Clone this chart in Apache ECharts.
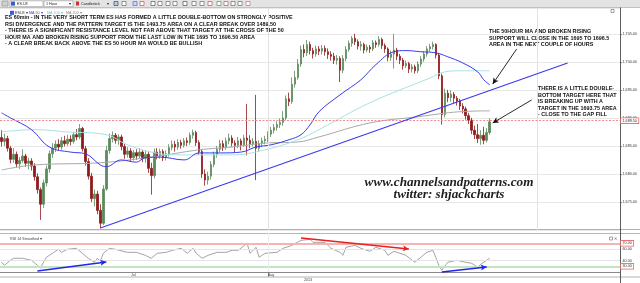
<!DOCTYPE html>
<html><head><meta charset="utf-8">
<script src="https://cdn.jsdelivr.net/npm/echarts@6/dist/echarts.min.js"></script>
<style>html,body{margin:0;padding:0;background:#fff}#c{width:640px;height:283px}</style>
</head><body><div id="c"></div>
<script>
// [open, close, low, high] for each 60-minute bar
const ohlc = [
[1686.5,1685.8,1684.9,1687.8],[1685.8,1686.3,1685.0,1687.2],[1686.3,1684.6,1684.0,1686.8],[1684.6,1682.6,1681.9,1685.0],
[1682.6,1683.5,1682.0,1684.6],[1683.5,1681.8,1681.2,1684.0],[1681.8,1682.4,1680.9,1683.0],[1682.4,1683.2,1682.0,1684.4],
[1683.2,1681.9,1681.3,1683.6],[1681.9,1682.3,1680.8,1682.9],[1682.3,1681.4,1680.6,1682.8],[1681.4,1679.5,1678.8,1681.9],
[1679.5,1677.2,1676.5,1680.1],[1677.2,1674.6,1671.8,1677.6],[1674.6,1678.4,1673.9,1679.0],[1678.4,1680.9,1677.8,1681.5],
[1680.9,1683.6,1680.2,1684.2],[1683.6,1684.6,1682.9,1685.5],[1684.6,1685.3,1683.9,1686.0],[1685.3,1684.8,1684.2,1686.2],
[1684.8,1685.9,1684.3,1686.6],[1685.9,1685.4,1684.9,1686.8],[1685.4,1686.2,1685.0,1687.0],[1686.2,1685.8,1685.1,1686.9],
[1685.8,1687.0,1685.4,1687.5],[1687.0,1686.6,1686.0,1688.0],[1686.6,1688.1,1686.2,1688.9],[1688.1,1684.5,1684.0,1688.4],
[1684.5,1682.2,1681.5,1685.0],[1682.2,1679.6,1679.0,1682.8],[1679.6,1675.6,1675.0,1680.2],[1675.6,1676.4,1674.2,1677.2],
[1676.4,1673.5,1672.8,1677.0],[1673.5,1671.2,1670.3,1674.6],[1671.2,1677.3,1670.9,1678.0],[1677.3,1684.2,1677.0,1685.0],
[1684.2,1686.3,1683.6,1687.2],[1686.3,1686.9,1685.6,1687.6],[1686.9,1686.0,1685.4,1687.3],[1686.0,1686.6,1685.2,1687.1],
[1686.6,1684.9,1684.2,1687.0],[1684.9,1683.5,1682.7,1685.4],[1683.5,1684.1,1682.9,1684.8],[1684.1,1682.9,1682.2,1684.6],
[1682.9,1683.8,1682.4,1684.3],[1683.8,1683.2,1682.5,1684.4],[1683.2,1683.9,1682.8,1684.6],[1683.9,1682.8,1682.1,1684.3],
[1682.8,1683.5,1682.0,1684.1],[1683.5,1681.0,1680.2,1683.9],[1681.0,1679.7,1676.3,1682.0],[1679.7,1683.9,1679.2,1684.5],
[1683.9,1683.2,1682.6,1684.6],[1683.2,1684.0,1682.7,1684.5],[1684.0,1682.9,1682.3,1684.4],[1682.9,1683.6,1682.4,1684.2],
[1683.6,1684.7,1683.1,1685.3],[1684.7,1685.3,1684.2,1686.0],[1685.3,1684.8,1684.0,1685.9],[1684.8,1685.6,1684.3,1686.2],
[1685.6,1685.1,1684.5,1686.1],[1685.1,1685.9,1684.7,1686.4],[1685.9,1685.6,1685.0,1686.5],[1685.6,1686.9,1685.2,1687.4],
[1686.9,1687.4,1686.3,1687.9],[1687.4,1685.6,1685.0,1687.7],[1685.6,1684.0,1683.4,1686.0],[1684.0,1680.0,1679.3,1684.3],
[1680.0,1678.9,1677.9,1680.8],[1678.9,1679.6,1678.1,1680.4],[1679.6,1681.7,1679.0,1682.3],[1681.7,1683.5,1681.2,1684.0],
[1683.5,1684.4,1682.9,1685.0],[1684.4,1685.4,1683.9,1686.1],[1685.4,1684.7,1684.1,1686.0],[1684.7,1685.9,1684.3,1686.5],
[1685.9,1686.4,1685.3,1687.2],[1686.4,1685.5,1684.9,1686.9],[1685.5,1685.1,1683.8,1686.0],[1685.1,1685.9,1684.6,1686.6],
[1685.9,1685.2,1684.2,1686.3],[1685.2,1686.4,1684.8,1687.0],[1686.4,1686.0,1683.3,1692.5],[1686.0,1685.4,1684.6,1686.9],
[1685.4,1685.8,1684.9,1686.4],[1685.8,1684.6,1678.9,1694.1],[1684.6,1685.4,1684.0,1686.0],[1685.4,1685.9,1684.8,1686.5],
[1685.9,1686.2,1685.3,1686.8],[1686.2,1687.1,1685.7,1687.6],[1687.1,1687.8,1686.6,1688.4],[1687.8,1688.3,1687.2,1688.9],
[1688.3,1688.8,1687.7,1689.4],[1688.8,1689.2,1688.2,1689.9],[1689.2,1690.0,1688.6,1691.2],[1690.0,1693.4,1689.6,1694.0],
[1693.4,1692.9,1692.1,1694.5],[1692.9,1696.0,1692.5,1697.2],[1696.0,1697.2,1695.4,1698.4],[1697.2,1699.6,1696.8,1700.5],
[1699.6,1702.2,1699.1,1702.9],[1702.2,1701.6,1700.8,1703.1],[1701.6,1703.1,1701.0,1703.9],[1703.1,1702.0,1701.3,1703.6],
[1702.0,1701.4,1700.6,1702.5],[1701.4,1702.3,1700.9,1702.9],[1702.3,1701.9,1701.2,1702.8],[1701.9,1702.4,1701.3,1703.0],
[1702.4,1701.8,1701.1,1702.9],[1701.8,1701.3,1700.5,1702.4],[1701.3,1701.0,1700.2,1701.9],[1701.0,1700.3,1699.6,1701.6],
[1700.3,1700.6,1699.5,1701.2],[1700.6,1698.5,1696.4,1701.0],[1698.5,1700.6,1698.0,1701.2],[1700.6,1702.2,1700.1,1702.8],
[1702.2,1703.3,1701.8,1703.8],[1703.3,1704.2,1702.7,1704.6],[1704.2,1703.6,1703.0,1705.0],[1703.6,1702.8,1702.2,1704.0],
[1702.8,1703.1,1702.0,1703.7],[1703.1,1702.1,1701.5,1703.4],[1702.1,1702.6,1701.7,1703.1],[1702.6,1702.3,1701.6,1703.0],
[1702.3,1703.4,1701.9,1703.9],[1703.4,1703.1,1702.5,1703.8],[1703.1,1704.0,1702.7,1704.6],[1704.0,1702.9,1702.3,1704.3],
[1702.9,1702.3,1701.6,1703.3],[1702.3,1700.8,1700.1,1702.6],[1700.8,1701.4,1700.2,1702.0],[1701.4,1702.1,1698.8,1705.0],
[1702.1,1701.0,1700.3,1702.5],[1701.0,1700.3,1699.6,1701.4],[1700.3,1699.3,1698.6,1700.7],[1699.3,1699.7,1698.9,1700.2],
[1699.7,1698.7,1698.0,1700.0],[1698.7,1699.1,1698.1,1699.6],[1699.1,1698.4,1697.9,1699.5],[1698.4,1699.6,1698.0,1700.1],
[1699.6,1700.5,1699.1,1701.0],[1700.5,1701.4,1700.0,1701.9],[1701.4,1702.3,1700.9,1702.8],[1702.3,1702.7,1701.8,1703.2],
[1702.7,1703.1,1702.2,1703.6],[1703.1,1701.2,1700.6,1703.3],[1701.2,1697.5,1696.9,1701.6],[1697.5,1690.6,1688.8,1697.9],
[1690.6,1694.4,1690.1,1695.2],[1694.4,1693.6,1692.8,1695.0],[1693.6,1694.2,1692.9,1694.9],[1694.2,1693.5,1692.6,1694.6],
[1693.5,1693.0,1692.2,1693.9],[1693.0,1692.1,1691.4,1693.4],[1692.1,1691.6,1690.8,1692.6],[1691.6,1690.4,1689.7,1692.0],
[1690.4,1689.6,1688.9,1690.9],[1689.6,1687.8,1687.1,1690.0],[1687.8,1687.0,1686.2,1688.6],[1687.0,1686.3,1685.5,1688.9],
[1686.3,1686.9,1685.2,1687.8],[1686.9,1686.0,1685.3,1688.4],[1686.0,1687.4,1685.6,1688.2],[1687.4,1689.3,1687.0,1689.9]
];
// moving averages: [bar index, value]
const ma50 = [[0,1690.9],[3,1690.0],[10,1687.9],[16,1684.8],[23,1683.9],[28,1683.6],[33,1681.6],[35,1681.3],[40,1682.5],
[45,1682.1],[48,1682.9],[53,1683.0],[61,1682.5],[66,1683.75],[73,1683.75],[80,1683.9],[85,1684.8],[90,1685.2],[96,1686.1],
[100,1687.0],[103,1688.75],[106,1691.1],[113,1694.1],[120,1696.8],[125,1699.5],[131,1701.8],[135,1702.0],[140,1701.8],
[145,1701.6],[149,1700.9],[154,1699.8],[159,1698.2],[161,1696.8],[163,1695.9]];
const ma100 = [[0,1687.5],[11,1687.9],[22,1687.5],[35,1687.0],[42,1685.2],[50,1683.9],[58,1683.4],[66,1683.4],[77,1683.4],
[88,1684.3],[99,1686.1],[106,1687.9],[123,1692.7],[143,1697.1],[148,1698.2],[153,1698.4],[163,1698.4]];
const ma200 = [[0,1680.7],[11,1681.6],[33,1682.0],[50,1683.0],[66,1684.3],[77,1684.8],[88,1685.5],[99,1685.7],[106,1686.6],
[123,1689.1],[139,1690.2],[153,1691.1],[163,1691.25]];
// RSI 14 smoothed: [bar index, value]
const rsi = [[0,37.0],[1,31.7],[3,40.4],[4,43.9],[7,43.9],[10,40.4],[12,31.7],[13,26.5],[14,37.0],[15,45.7],[17,52.6],
[19,59.6],[20,54.3],[22,59.6],[25,61.3],[27,52.6],[29,43.9],[31,37.0],[32,43.9],[33,38.7],[34,52.6],[36,61.3],[38,59.6],
[42,54.3],[45,54.3],[48,49.1],[50,43.9],[52,52.6],[55,54.3],[57,57.8],[60,61.3],[62,52.6],[64,61.3],[65,52.6],[67,43.9],
[69,49.1],[72,54.3],[75,54.3],[77,57.8],[79,57.8],[82,70.0],[83,52.6],[85,63.0],[86,45.7],[88,52.6],[92,54.3],[94,61.3],
[97,66.5],[100,75.2],[103,77.0],[104,71.7],[106,71.7],[108,71.7],[110,61.3],[113,54.3],[114,49.1],[115,63.0],[118,66.5],
[120,61.3],[123,56.1],[125,63.0],[128,57.8],[129,49.1],[131,56.1],[133,52.6],[135,49.1],[138,37.0],[140,45.7],[142,54.3],
[144,57.8],[145,45.7],[146,31.7],[147,23.0],[149,37.0],[152,40.4],[155,37.0],[157,35.2],[159,28.3],[160,33.5],[162,40.4],[163,43.9]];
const slotCount = 207;
const slots = Array.from({length: slotCount}, (_, i) => String(i));
const xTickLabels = {44: 'Jul', 90: 'Aug'};
const breakLevel = 1689.5, lowLevel = 1670.24;
const trendline = [[33,1670.36],[189,1699.79]];
const noteTop = [
 'ES 60min - IN THE VERY SHORT TERM ES HAS FORMED A LITTLE DOUBLE-BOTTOM ON STRONGLY POSITIVE',
 'RSI DIVERGENCE AND THE PATTERN TARGET IS THE 1493.75 AREA ON A CLEAR BREAK OVER 1489.50',
 '- THERE IS A SIGNIFICANT RESISTANCE LEVEL NOT FAR ABOVE THAT TARGET AT THE CROSS OF THE 50',
 'HOUR MA AND BROKEN RISING SUPPORT FROM THE LAST LOW IN THE 1695 TO 1696.50 AREA',
 '- A CLEAR BREAK BACK ABOVE THE ES 50 HOUR MA WOULD BE BULLISH'];
const noteMa = ['THE 50HOUR MA AND BROKEN RISING','SUPPORT WILL CLOSE IN THE 1695 TO 1696.5','AREA IN THE NEXT COUPLE OF HOURS'];
const noteDb = ['THERE IS A LITTLE DOUBLE-','BOTTOM TARGET HERE THAT','IS BREAKING UP WITH A','TARGET IN THE 1693.75 AREA','- CLOSE TO THE GAP FILL'];

function fmt(v){ const s=v.toFixed(2); const [a,b]=s.split('.'); return a.replace(/\B(?=(\d{3})+(?!\d))/g, ',')+'.'+b; }
const tiny = 3.7;
const boxLabel = (txt) => ({show:true, position:'end', distance:1, formatter: txt, fontSize: tiny, color:'#333',
  backgroundColor:'#fff', borderColor:'#e86a6a', borderWidth:0.8, padding:[0.5,1.5,0.3,1.5], fontFamily:'Liberation Sans'});

const g = [];
function T(x,y,text,o){ g.push(Object.assign({type:'text', silent:true, style:Object.assign({x,y,text,fill:'#222',fontSize:tiny,
  fontFamily:'Liberation Sans', verticalAlign:'middle'}, o||{})})); }
function R(x,y,w,h,fill,stroke){ g.push({type:'rect', silent:true, shape:{x,y,width:w,height:h}, style:{fill:fill||'none', stroke:stroke||null, lineWidth:0.6}}); }
function L(x1,y1,x2,y2,c,w){ g.push({type:'line', silent:true, shape:{x1,y1,x2,y2}, style:{stroke:c, lineWidth:w||1}}); }
// toolbar
R(0,0,640,7.5,'#e3e3e3'); L(0,7.5,640,7.5,'#b5b5b5',0.8);
R(2,1,6,5,'#d0d0d0','#8a8a8a');
R(10,0.8,33,5.8,'#fff','#9a9a9a'); R(11,1.6,4,4,'#3a5ccc'); T(17,3.8,'ES.U3');
R(44,0.8,29,5.8,'#fff','#9a9a9a'); T(46,3.8,'1 Hour'); T(69,3.8,'▾');
R(76,1.5,3,4,'#c33'); T(81,3.8,'Candlestick'); T(107,3.8,'▾');
const icons = [[114,'#b8c8f0','#333'],[122,'#fff','#555'],[133,'#cfd8f5','#3a5ccc'],[140,'#fff','#c33'],[151,'#fff','#444'],[158,'#fff','#555'],
 [166,'#fff','#555'],[173,'#fff','#555'],[183,'#fff','#333'],[192,'#fff','#555'],[200,'#fff','#555'],[208,'#fff','#c33'],[217,'#fff','#2a8a2a'],
 [224,'#fff','#c33'],[231,'#fff','#555'],[238,'#fff','#555'],[246,'#fff','#c55']];
icons.forEach(([x,f,s]) => R(x,1.5,4,4,f,s));
// legend row
R(10,10.8,4,4,'#3a5ccc'); T(15,13,'ESU3 ▾',{fill:'#333'});
T(29,13,'MA 50 ▾',{fill:'#3a3af0'}); T(47,13,'MA 100 ▾',{fill:'#5fc6c6'}); T(66,13,'MA 200 ▾',{fill:'#888'});
R(611,9.5,3,3,'#fff','#666');
// notes
const bold = {fontWeight:'bold', fontSize:5.4, fill:'#111'};
noteTop.forEach((t,i)=>T(5,17.6+i*6.6,t,bold));
const bold2 = {fontWeight:'bold', fontSize:5.4, fill:'#111'};
noteMa.forEach((t,i)=>T(489,31.8+i*6.6,t,bold2));
noteDb.forEach((t,i)=>T(538,88.8+i*6.45,t,bold2));
// watermark
T(449,182.5,'www.channelsandpatterns.com',{fontFamily:'Liberation Serif',fontStyle:'italic',fontWeight:'bold',fontSize:13.2,align:'center',fill:'#1e1e1e'});
T(449,195,'twitter: shjackcharts',{fontFamily:'Liberation Serif',fontStyle:'italic',fontWeight:'bold',fontSize:13.2,align:'center',fill:'#1e1e1e'});
// pane frames
L(0,229.5,640,229.5,'#9a9a9a',0.8); L(0,233.5,640,233.5,'#a5a5a5',0.8);
L(0,277,640,277,'#a0a0a0',0.8); L(620.5,7.5,620.5,283,'#333',0.8);
T(10,239,'RSI 14 Smoothed ▾',{fill:'#444'});
R(609.5,237,3,3,'#fff','#666'); T(614,238.6,'✕',{fontSize:3.5,fill:'#444'});
T(308,280.3,'2013',{align:'center',fill:'#444'});
L(268.5,272,268.5,277,'#777',0.6);

const arrowEnd = (a,b,c,w) => [{coord:a, symbol:'none', lineStyle:{color:c,width:w,type:'solid'}},{coord:b, symbol:'arrow', symbolSize:[4.5,6]}];

const option = {
 animation:false, backgroundColor:'#fff',
 grid:[{left:0,right:20,top:8,height:222},{left:0,right:20,top:233,height:39}],
 xAxis:[
  {type:'category',gridIndex:0,data:slots,boundaryGap:true,axisLine:{show:false},axisTick:{show:false},axisLabel:{show:false},splitLine:{show:false}},
  {type:'category',gridIndex:1,data:slots,boundaryGap:true,axisLine:{lineStyle:{color:'#6a6a6a',width:0.8}},axisTick:{show:false},
   axisLabel:{interval:(i)=>xTickLabels[i]!==undefined, formatter:(v,i)=>xTickLabels[i]||'', fontSize:tiny, color:'#444', margin:1.2, fontFamily:'Liberation Sans'},splitLine:{show:false}}],
 yAxis:[
  {type:'value',gridIndex:0,position:'right',min:1670,max:1709.6,interval:5,
   axisLine:{show:false},axisTick:{show:true,length:2,lineStyle:{color:'#444',width:0.6}},
   axisLabel:{showMinLabel:false,showMaxLabel:false,formatter:(v)=>fmt(v),fontSize:tiny,color:'#333',margin:2.5,fontFamily:'Liberation Sans'},
   splitLine:{show:true,lineStyle:{color:'#e8e8e8',width:1}}},
  {type:'value',gridIndex:1,position:'right',min:20,max:88,interval:20,
   axisLine:{show:false},axisTick:{show:false},
   axisLabel:{formatter:(v)=>(v===40||v===60)?fmt(v):'',fontSize:tiny,color:'#333',margin:2.5,fontFamily:'Liberation Sans'},
   splitLine:{show:false}}],
 series:[
  {type:'candlestick',xAxisIndex:0,yAxisIndex:0,data:ohlc,barWidth:2,
   itemStyle:{color:'#5d8a5d',color0:'#8e1c1c',borderColor:'#5d8a5d',borderColor0:'#8e1c1c',borderWidth:0.8},
   markLine:{silent:true,symbol:'none',animation:false,
    data:[
     {xAxis:89,lineStyle:{color:'#e2e2e2',width:1,type:'solid'},label:{show:false}},
     {xAxis:179,lineStyle:{color:'#e2e2e2',width:1,type:'solid'},label:{show:false}},
     {yAxis:breakLevel,lineStyle:{color:'#f08c8c',width:1,type:[2,1.5]},label:boxLabel(fmt(breakLevel))},
     {yAxis:lowLevel,lineStyle:{opacity:0},label:boxLabel(fmt(lowLevel))},
     [{coord:trendline[0],lineStyle:{color:'#3a3af0',width:1.2,type:'solid'},label:{show:false}},{coord:trendline[1]}],
     arrowEnd([172,1702.29],[164,1696.04],'#111',0.9),
     arrowEnd([177,1693.2],[164,1689.09],'#111',0.9)
    ].map(d=>Array.isArray(d)?d.map((p,k)=>k===0?Object.assign({label:{show:false}},p):p):d)}},
  {type:'line',xAxisIndex:0,yAxisIndex:0,data:ma200,smooth:0.4,showSymbol:false,lineStyle:{color:'#a9a9a9',width:1},z:3},
  {type:'line',xAxisIndex:0,yAxisIndex:0,data:ma100,smooth:0.4,showSymbol:false,lineStyle:{color:'#a6e3e3',width:1},z:3},
  {type:'line',xAxisIndex:0,yAxisIndex:0,data:ma50,smooth:0.4,showSymbol:false,lineStyle:{color:'#3a3af0',width:1},z:4},
  {type:'line',xAxisIndex:1,yAxisIndex:1,data:rsi,showSymbol:false,lineStyle:{color:'#8d8d8d',width:0.8},
   markLine:{silent:true,symbol:'none',animation:false,
    data:[
     {yAxis:60,lineStyle:{color:'#e4e4e4',width:1,type:'solid'},label:{show:false}},
     {yAxis:40,lineStyle:{color:'#e4e4e4',width:1,type:'solid'},label:{show:false}},
     {yAxis:70,lineStyle:{color:'#f5b3b3',width:2,type:'solid'},label:boxLabel('70.00')},
     {yAxis:30,lineStyle:{color:'#c2e4c2',width:2,type:'solid'},label:boxLabel('30.00')},
     {xAxis:89,lineStyle:{color:'#ececec',width:1,type:'solid'},label:{show:false}},
     arrowEnd([100,79.3],[136,60.2],'#e82020',1.5),
     arrowEnd([12,21.9],[35,37.6],'#2323f0',1.5),
     arrowEnd([147,20.2],[162,28.9],'#2323f0',1.5)
    ].map(d=>Array.isArray(d)?d.map((p,k)=>k===0?Object.assign({label:{show:false}},p):p):d)}}
 ],
 graphic: g
};
const chart = echarts.init(document.getElementById('c'), null, {renderer:'canvas'});
chart.setOption(option);
</script></body></html>
